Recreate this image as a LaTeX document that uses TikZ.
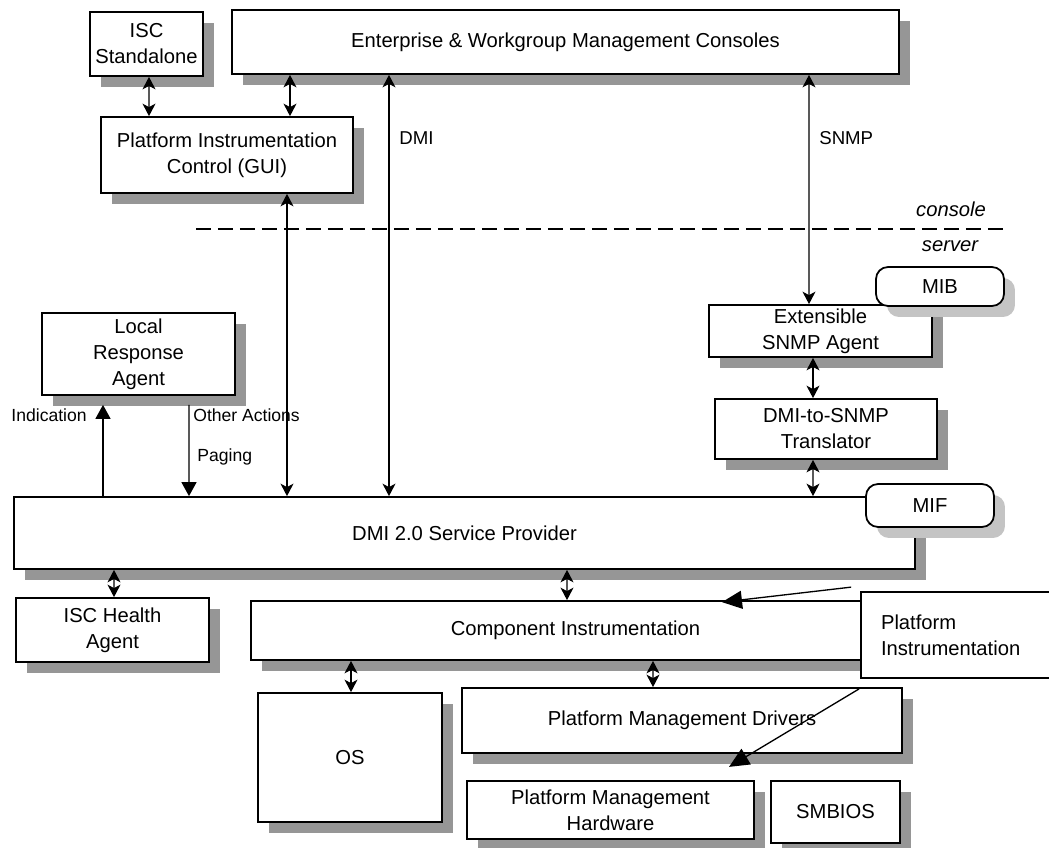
\documentclass[tikz,border=0pt]{standalone}
\usepackage{fontspec}
\setmainfont{Liberation Sans}
\usetikzlibrary{arrows.meta, positioning, calc, shadows}

\definecolor{shadegray}{HTML}{969696}
\definecolor{paleshade}{HTML}{C4C4C4}
\newcommand\bxfont{\fontsize{11.5}{14.8}\selectfont}
\newcommand\lblfont{\fontsize{10}{12}\selectfont}

\tikzset{
  panel/.style = {draw=black, line width=1pt, fill=white, align=center,
    inner sep=1pt, font=\bxfont},
  box/.style = {panel, drop shadow={shadow xshift=0.22cm, shadow yshift=-0.22cm,
    fill=shadegray, opacity=1}},
  tag/.style = {panel, rounded corners=0.24cm, drop shadow={shadow xshift=0.22cm,
    shadow yshift=-0.22cm, fill=paleshade, opacity=1}},
  link/.style = {line width=0.75pt,
    arrows={Stealth[length=0.25cm,width=0.26cm,inset=0.07cm]-Stealth[length=0.25cm,width=0.26cm,inset=0.07cm]}},
  flow/.style = {line width=0.75pt, -{Triangle[length=0.28cm,width=0.3cm]}},
  hint/.style = {line width=0.75pt, -{Triangle[length=0.4cm,width=0.36cm]}},
  lbl/.style = {inner sep=0pt, font=\lblfont}
}

\begin{document}
\begin{tikzpicture}[x=0.02cm, y=-0.02cm]
\path [use as bounding box, fill=white] (0,0) rectangle (1049,848);

\node [box, minimum width=2.26cm, minimum height=1.28cm] (isc) at (146.5,44) {ISC\\Standalone};
\node [box, minimum width=13.34cm, minimum height=1.28cm] (ent) at (565.5,42) {Enterprise \& Workgroup Management Consoles};
\node [box, minimum width=5.04cm, minimum height=1.52cm] (pic) at (227,155) {Platform Instrumentation\\Control (GUI)};
\node [box, minimum width=3.86cm, minimum height=1.64cm] (lra) at (138.5,354) {Local\\Response\\Agent};
\node [box, minimum width=4.46cm, minimum height=1.04cm] (ext) at (820.5,331) {Extensible\\SNMP Agent};
\node [tag, minimum width=2.56cm, minimum height=0.78cm] (mib) at (940,286.5) {MIB};
\node [box, minimum width=4.44cm, minimum height=1.2cm] (trans) at (826,429) {DMI-to-SNMP\\Translator};
\node [box, minimum width=18.02cm, minimum height=1.44cm] (sp) at (464.5,533) {DMI 2.0 Service Provider};
\node [tag, minimum width=2.56cm, minimum height=0.86cm] (mif) at (930,505.5) {MIF};
\node [box, minimum width=3.86cm, minimum height=1.28cm] (health) at (112.5,630) {ISC Health\\Agent};
\node [box, minimum width=12.98cm, minimum height=1.18cm] (ci) at (575.5,630.5) {Component Instrumentation};
\node [panel, text width=3.38cm, inner xsep=0.4cm, minimum height=1.72cm, align=left] (pinst) at (965.5,635) {Platform\\Instrumentation};
\node [box, minimum width=3.68cm, minimum height=2.58cm] (os) at (350,757.5) {OS};
\node [box, minimum width=8.8cm, minimum height=1.3cm] (pmd) at (682,720.5) {Platform Management Drivers};
\node [box, minimum width=5.74cm, minimum height=1.16cm] (pmh) at (610.5,810) {Platform Management\\Hardware};
\node [box, minimum width=2.58cm, minimum height=1.24cm] (smbios) at (835.5,812) {SMBIOS};

\node [lbl, anchor=west, font=\fontsize{10.6}{12}\selectfont] (dmi) at (399,138) {DMI};
\node [lbl, anchor=west, font=\fontsize{10.6}{12}\selectfont] (snmp) at (819,138) {SNMP};
\node [lbl, font=\bxfont\itshape] (con) at (951,209) {console};
\node [lbl, font=\bxfont\itshape] (srv) at (950,246) {server};
\node [lbl, anchor=east] (ind) at (87,415) {Indication};
\node [lbl, anchor=west] (oth) at (193,415) {Other Actions};
\node [lbl, anchor=west] (pag) at (197,457) {Paging};

\coordinate (divl) at (196,229);
\coordinate (divr) at (1007,229);
\draw [line width=1.4pt, dash pattern=on 0.3cm off 0.14cm] (divl) -- (divr);

\draw [link] ($(isc.south)+(2.5,0)$) -- ($(pic.north)+(-78,0)$);
\draw [link] ($(ent.south)+(-275.5,0)$) -- ($(pic.north)+(63,0)$);
\draw [link] ($(pic.south)+(60,0)$) -- ($(sp.north)+(-177.5,0)$);
\draw [link] ($(ent.south)+(-176.5,0)$) -- ($(sp.north)+(-75.5,0)$);
\draw [link] ($(ent.south)+(243.5,0)$) -- ($(ext.north)+(-11.5,0)$);
\draw [link] ($(ext.south)+(-7.5,0)$) -- ($(trans.north)+(-13,0)$);
\draw [link] ($(trans.south)+(-13,0)$) -- ($(sp.north)+(348.5,0)$);
\draw [flow] ($(sp.north)+(-361.5,0)$) -- ($(lra.south)+(-35.5,9)$);
\draw [flow] ($(lra.south)+(50.5,9)$) -- ($(sp.north)+(-275.5,0)$);
\draw [link] ($(sp.south)+(-350.5,0)$) -- ($(health.north)+(1.5,0)$);
\draw [link] ($(sp.south)+(102.5,0)$) -- ($(ci.north)+(-8.5,0)$);
\draw [link] ($(ci.south)+(-224.5,0)$) -- ($(os.north)+(1,0)$);
\draw [link] ($(ci.south)+(77.5,0)$) -- ($(pmd.north)+(-29,0)$);
\draw [hint] ($(pinst.north west)+(-9,-4)$) -- ($(ci.north)+(146.5,2)$);
\draw [hint] ($(pinst.south west)+(-1,10)$) -- ($(pmd.south)+(47,13)$);
\end{tikzpicture}
\end{document}
